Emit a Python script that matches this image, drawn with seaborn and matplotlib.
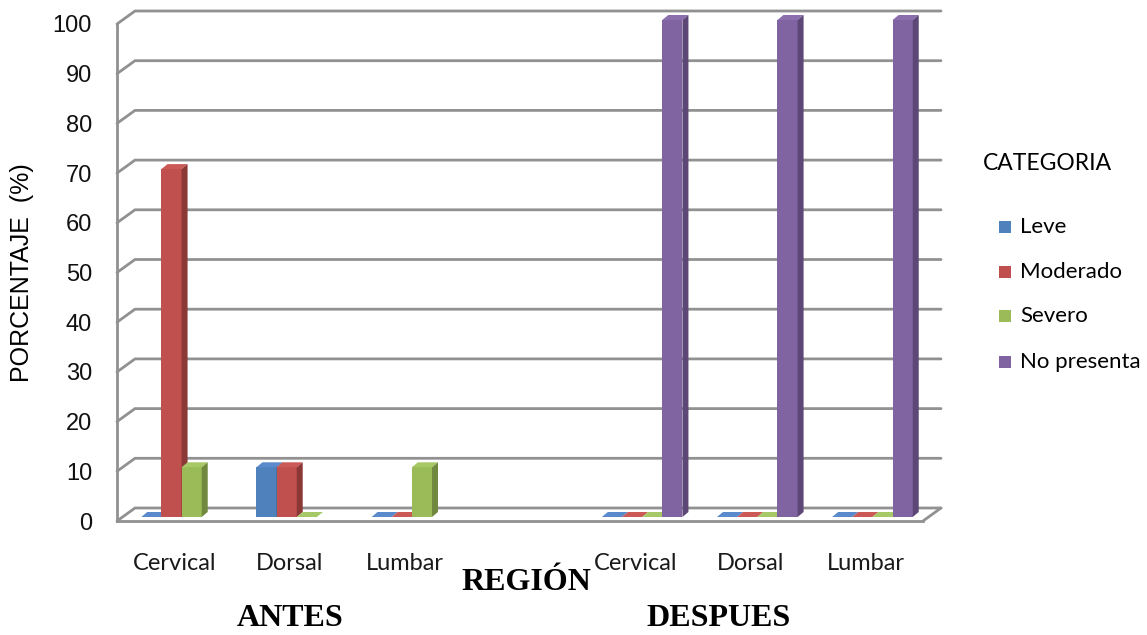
import numpy as np
import pandas as pd
import matplotlib
matplotlib.use("Agg")
import matplotlib.pyplot as plt
from matplotlib.patches import Polygon, Rectangle
from matplotlib.lines import Line2D
import seaborn as sns

# --- data -------------------------------------------------------------
slots = ["Cervical_A", "Dorsal_A", "Lumbar_A", "gap", "Cervical_D", "Dorsal_D", "Lumbar_D"]
tick_labels = ["Cervical", "Dorsal", "Lumbar", "", "Cervical", "Dorsal", "Lumbar"]
series = ["Leve", "Moderado", "Severo", "No presenta"]
leve = [0, 10, 0, np.nan, 0, 0, 0]
moderado = [70, 10, 0, np.nan, 0, 0, 0]
severo = [10, 0, 10, np.nan, 0, 0, 0]
no_presenta = [np.nan, np.nan, np.nan, np.nan, 100, 100, 100]
y_ticks = list(range(0, 101, 10))

front_colors = ["#4F81BD", "#C0504D", "#9BBB59", "#8064A2"]
side_colors = ["#385D8A", "#8C3836", "#71893F", "#5C4776"]
top_colors = ["#5A8ACB", "#CB5A57", "#A6C866", "#8A6EAD"]

rows = []
for name, vals in zip(series, [leve, moderado, severo, no_presenta]):
    for s, v in zip(slots, vals):
        rows.append({"slot": s, "categoria": name, "valor": v})
df = pd.DataFrame(rows).dropna()

# --- figure -----------------------------------------------------------
DPI = 100
W, H = 1147, 635
fig = plt.figure(figsize=(W / DPI, H / DPI), dpi=DPI)
sns.set_style("white")
plt.rcParams["font.family"] = ["DejaVu Sans"]

x0, x1 = 117, 923
y0, y1 = 521, 24
ax = fig.add_axes([x0 / W, 1 - y0 / H, (x1 - x0) / W, (y0 - y1) / H])
ax.patch.set_alpha(0)

sns.barplot(data=df, x="slot", y="valor", hue="categoria", order=slots,
            hue_order=series, palette=front_colors, width=0.7,
            errorbar=None, saturation=1, ax=ax, legend=False,
            linewidth=0, zorder=3)

ax.set_xlim(-0.5, len(slots) - 0.5)
ax.set_ylim(0, 100)

grid_col = "#919191"
BACK_DX, BACK_DY = 18, 13      # back wall offset in pixels
BAR_DX, BAR_DY = 7, 4          # bars sit in mid depth
DEP_DX, DEP_DY = 6, 5          # visible bar depth

to_disp = ax.transData.transform
to_data = ax.transData.inverted().transform

def shift(pts, dx, dy):
    d = to_disp(np.asarray(pts, dtype=float))
    d[:, 0] += dx
    d[:, 1] += dy
    return to_data(d)

xl, xr = ax.get_xlim()

# back wall gridlines with diagonal joints to the front axis
for v in y_ticks:
    back_l = shift([[xl, v]], BACK_DX, BACK_DY)
    back_r = shift([[xr, v]], BACK_DX, BACK_DY)
    ax.add_line(Line2D([xl, back_l[0, 0], back_r[0, 0]],
                       [v, back_l[0, 1], back_r[0, 1]],
                       color=grid_col, lw=2, zorder=1, clip_on=False,
                       solid_joinstyle="miter"))

# floor right edge
fr = shift([[xr, 0]], BACK_DX, BACK_DY)
ax.add_line(Line2D([xr, fr[0, 0]], [0, fr[0, 1]], color=grid_col, lw=2,
                   zorder=1, clip_on=False))

# 3D faces on each bar; bars further right are drawn on top
cmap = {c.lower(): i for i, c in enumerate(front_colors)}
bars = [p for p in ax.patches if isinstance(p, Rectangle)]
bars = [p for p in bars if not np.isnan(p.get_height())]
bars.sort(key=lambda p: p.get_x())
for order_i, p in enumerate(bars):
    z = 3 + order_i * 0.01
    h = p.get_height()
    bx, bw = p.get_x(), p.get_width()
    fc = matplotlib.colors.to_hex(p.get_facecolor()).lower()
    k = cmap.get(fc, 0)
    fpts = shift([[bx, 0], [bx + bw, h]], BAR_DX, BAR_DY)
    p.set_x(fpts[0, 0]); p.set_y(fpts[0, 1])
    p.set_width(fpts[1, 0] - fpts[0, 0]); p.set_height(fpts[1, 1] - fpts[0, 1])
    p.set_clip_on(False)
    p.set_zorder(z)
    fx0, fy0 = fpts[0]
    fx1, fy1 = fpts[1]
    top_back = shift([[fx0, fy1], [fx1, fy1]], DEP_DX, DEP_DY)
    ax.add_patch(Polygon([[fx0, fy1], [fx1, fy1], top_back[1], top_back[0]],
                         closed=True, facecolor=top_colors[k], lw=0,
                         zorder=z, clip_on=False))
    side_back = shift([[fx1, fy0], [fx1, fy1]], DEP_DX, DEP_DY)
    ax.add_patch(Polygon([[fx1, fy0], side_back[0], side_back[1], [fx1, fy1]],
                         closed=True, facecolor=side_colors[k], lw=0,
                         zorder=z, clip_on=False))

# axes, ticks and labels
for s in ["top", "right"]:
    ax.spines[s].set_visible(False)
for s in ["left", "bottom"]:
    ax.spines[s].set_color(grid_col)
    ax.spines[s].set_linewidth(2)
    ax.spines[s].set_zorder(2)

ax.set_yticks(y_ticks)
ax.set_yticklabels([str(v) for v in y_ticks], fontsize=17,
                   fontfamily="Liberation Sans", color="#111111")
ax.tick_params(axis="y", length=5, width=2, color=grid_col, pad=13)

ax.set_xticks(range(len(slots)))
ax.set_xticklabels(tick_labels, fontsize=17, fontfamily="Lato", color="#1a1a1a")
ax.tick_params(axis="x", which="major", length=0, pad=23)
ax.set_xticks(np.arange(-0.5, len(slots), 1.0), minor=True)
ax.tick_params(axis="x", which="minor", length=6, width=2, color=grid_col)
ax.set_xlabel("")
ax.set_ylabel("")

fig.text(22 / W, 1 - 273 / H, "PORCENTAJE  (%)", rotation=90, ha="center",
         va="center", fontsize=18, fontfamily="Liberation Sans", color="black")
fig.text(526 / W, 1 - 582 / H, "REGIÓN", ha="center", va="center",
         fontsize=23, fontweight="bold", fontfamily="Liberation Serif",
         color="black")
fig.text(290 / W, 1 - 619 / H, "ANTES", ha="center", va="center",
         fontsize=23, fontweight="bold", fontfamily="Liberation Serif",
         color="black")
fig.text(719 / W, 1 - 619 / H, "DESPUES", ha="center", va="center",
         fontsize=23, fontweight="bold", fontfamily="Liberation Serif",
         color="black")

# legend
fig.text(983 / W, 1 - 163 / H, "CATEGORIA", ha="left", va="center",
         fontsize=16.5, fontfamily="Lato", color="black")
leg_y = [227, 272, 316, 362]
for name, col, yy in zip(series, front_colors, leg_y):
    fig.patches.append(Rectangle((999 / W, 1 - (yy + 6) / H), 12 / W, 12 / H,
                                 transform=fig.transFigure, facecolor=col,
                                 lw=0))
    fig.text(1020 / W, 1 - yy / H, name, ha="left", va="center",
             fontsize=16, fontfamily="Lato", color="black")

fig.savefig("out.png", dpi=DPI)
